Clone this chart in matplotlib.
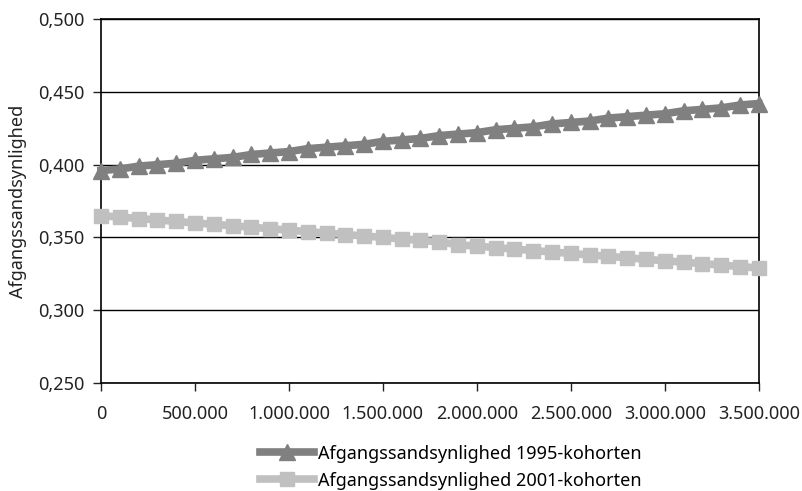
import matplotlib.pyplot as plt
from matplotlib.ticker import FuncFormatter

plt.rcParams['font.family'] = ['Noto Sans', 'DejaVu Sans']

# indkomst (kr.) i trin af 100.000
indkomst = [i * 100000 for i in range(36)]

kohorte_1995 = [0.396, 0.397, 0.399, 0.400, 0.401, 0.403, 0.404, 0.405, 0.407, 0.408,
                0.409, 0.411, 0.412, 0.413, 0.414, 0.416, 0.417, 0.418, 0.420, 0.421,
                0.422, 0.424, 0.425, 0.426, 0.428, 0.429, 0.430, 0.432, 0.433, 0.434,
                0.435, 0.437, 0.438, 0.439, 0.441, 0.442]
kohorte_2001 = [0.365, 0.364, 0.363, 0.362, 0.361, 0.360, 0.359, 0.358, 0.357, 0.356,
                0.355, 0.354, 0.353, 0.352, 0.351, 0.350, 0.349, 0.348, 0.347, 0.345,
                0.344, 0.343, 0.342, 0.341, 0.340, 0.339, 0.338, 0.337, 0.336, 0.335,
                0.334, 0.333, 0.332, 0.331, 0.330, 0.329]

x_ticks = [0, 500000, 1000000, 1500000, 2000000, 2500000, 3000000, 3500000]
y_ticks = [0.25, 0.30, 0.35, 0.40, 0.45, 0.50]

fig = plt.figure(figsize=(8.02, 4.91), dpi=100)
ax = fig.add_axes([0.126, 0.22, 0.820, 0.741])

ax.plot(indkomst, kohorte_1995, color='#808080', lw=5.5, marker='^', ms=11,
        label='Afgangssandsynlighed 1995-kohorten', zorder=3, clip_on=False)
ax.plot(indkomst, kohorte_2001, color='#c0c0c0', lw=5.5, marker='s', ms=10,
        label='Afgangssandsynlighed 2001-kohorten', zorder=3, clip_on=False)

ax.set_xlim(0, 3500000)
ax.set_ylim(0.25, 0.5)
ax.set_xticks(x_ticks)
ax.set_yticks(y_ticks)
ax.xaxis.set_major_formatter(FuncFormatter(lambda v, p: f"{int(v):,}".replace(',', '.')))
ax.yaxis.set_major_formatter(FuncFormatter(lambda v, p: f"{v:.3f}".replace('.', ',')))
ax.tick_params(labelsize=13, colors='#222222', length=6, width=1, direction='out', pad=6)
ax.tick_params(axis='x', pad=10)
ax.grid(axis='y', color='black', lw=1)
ax.set_axisbelow(True)
for s in ax.spines.values():
    s.set_color('black')
    s.set_linewidth(1.2)

ax.set_ylabel('Afgangssandsynlighed', fontsize=13, color='#222222', labelpad=8)

ax.legend(loc='upper center', bbox_to_anchor=(0.532, -0.135), frameon=False, ncol=1,
          fontsize=13, handlelength=3.0, handletextpad=0.2, labelspacing=0.5,
          borderpad=0.2)

fig.savefig('out.png', dpi=100)
